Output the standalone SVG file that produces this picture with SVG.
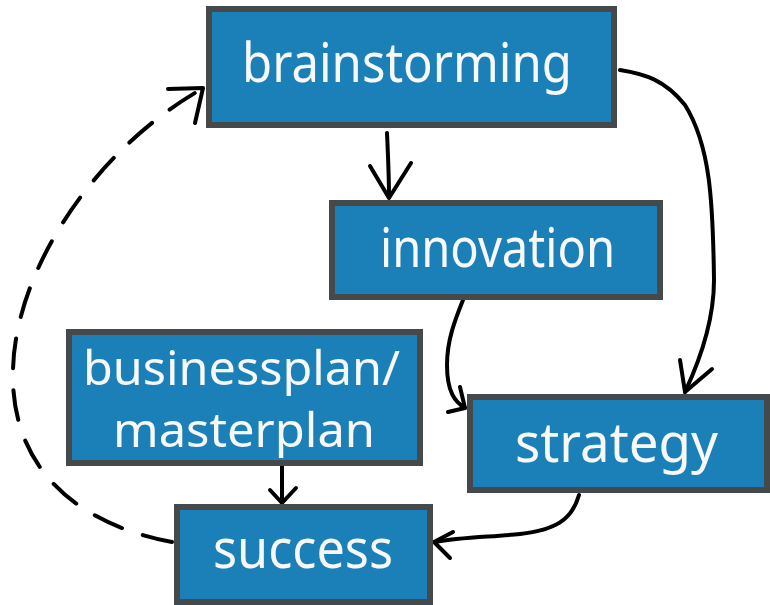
<svg xmlns="http://www.w3.org/2000/svg" width="770" height="605" viewBox="0 0 770 605">
<style>
.box{fill:#1b80b8;stroke:#46494c;stroke-width:6}
.lbl{font-family:"Noto Sans","DejaVu Sans",sans-serif;font-size:54px;fill:#f8f8f8;text-anchor:middle}
.sm{font-size:48px}
.ln{fill:none;stroke:#000;stroke-width:4;stroke-linecap:round;stroke-linejoin:round}
.dash{stroke-dasharray:30 22}
</style>
<rect width="770" height="605" fill="#fff"/>
<g id="connectors">
  <path class="ln" d="M387,133 C388,155 389,175 389,197"/>
  <polyline class="ln" points="370,166 389,198 411,163"/>
  <path class="ln" d="M620,70 C645,74 665,80 685,105 C710,145 713,200 714,280 C714,320 700,360 685,392"/>
  <polyline class="ln" points="680,360 685,392 712,369"/>
  <path class="ln" d="M463,300 C455,320 447,340 447,365 C447,392 455,402 465,408"/>
  <polyline class="ln" points="460,387 465,408 448,412"/>
  <path class="ln" d="M282,466 L282,503"/>
  <polyline class="ln" points="270,490 282,503 296,488"/>
  <path class="ln" d="M579,495 C572,520 555,530 520,534 C490,537 460,537 435,542"/>
  <polyline class="ln" points="453,532 434,542 450,558"/>
  <path class="ln dash" d="M172,542 C80,525 10,470 13,370 C15,270 95,150 200,90"/>
  <polyline class="ln" points="168,89 203,88 195,123"/>
</g>
<g id="brainstorming">
  <rect class="box" x="209" y="9" width="405" height="116"/>
  <text class="lbl" x="407" y="82" textLength="330" lengthAdjust="spacingAndGlyphs">brainstorming</text>
</g>
<g id="innovation">
  <rect class="box" x="332" y="203" width="328" height="94"/>
  <text class="lbl" x="497.5" y="267" textLength="235" lengthAdjust="spacingAndGlyphs">innovation</text>
</g>
<g id="businessplan">
  <rect class="box" x="69" y="332" width="351" height="131"/>
  <text class="lbl sm" x="241.5" y="385" textLength="317" lengthAdjust="spacingAndGlyphs">businessplan/</text>
  <text class="lbl sm" x="244" y="447" textLength="262" lengthAdjust="spacingAndGlyphs">masterplan</text>
</g>
<g id="strategy">
  <rect class="box" x="470" y="397" width="297" height="93"/>
  <text class="lbl" x="616.5" y="462" textLength="203" lengthAdjust="spacingAndGlyphs">strategy</text>
</g>
<g id="success">
  <rect class="box" x="177" y="507" width="253" height="95"/>
  <text class="lbl" x="303" y="568" textLength="180" lengthAdjust="spacingAndGlyphs">success</text>
</g>
</svg>
